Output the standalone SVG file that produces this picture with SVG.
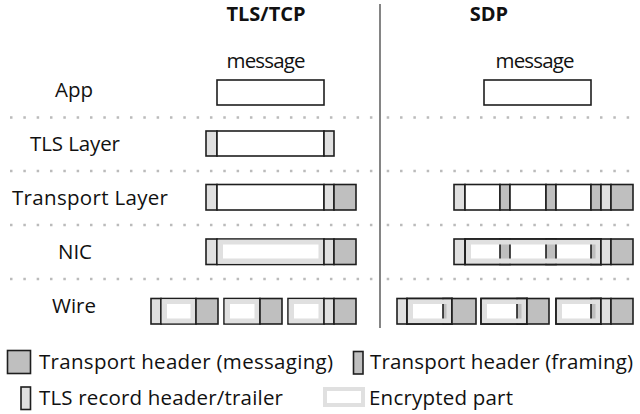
<svg xmlns="http://www.w3.org/2000/svg" width="640" height="414" viewBox="0 0 640 414">
<style>
text{font-family:"Open Sans","Noto Sans","DejaVu Sans",sans-serif;font-size:20.5px;fill:#111}
.t{font-weight:bold;text-anchor:middle;font-size:20px}
.c{text-anchor:middle}
.p{stroke:#1e1e1e;stroke-width:1.6}
.lt{fill:#e0e0e0}
.md{fill:#bfbfbf}
.wh{fill:#fff}
.band{fill:#e0e0e0;fill-rule:evenodd}
.sep{stroke:#bbb;stroke-width:2.5;stroke-dasharray:2.5 10.83}
</style>
<rect width="640" height="414" fill="#fff"/>
<g id="separators">
<line class="sep" x1="10" y1="117.5" x2="375" y2="117.5"/>
<line class="sep" x1="386.7" y1="117.5" x2="635" y2="117.5"/>
<line class="sep" x1="10" y1="171" x2="375" y2="171"/>
<line class="sep" x1="386.7" y1="171" x2="635" y2="171"/>
<line class="sep" x1="10" y1="225" x2="375" y2="225"/>
<line class="sep" x1="386.7" y1="225" x2="635" y2="225"/>
<line class="sep" x1="10" y1="279" x2="375" y2="279"/>
<line class="sep" x1="386.7" y1="279" x2="635" y2="279"/>
<line x1="380" y1="4" x2="380" y2="328" stroke="#333" stroke-width="1.2"/>
</g>
<g id="titles">
<text class="t" x="266" y="21">TLS/TCP</text>
<text class="t" x="489" y="21">SDP</text>
<text class="c" x="266" y="68" textLength="79">message</text>
<text class="c" x="535" y="68" textLength="79">message</text>
</g>
<g id="labels">
<text class="c" x="74" y="97">App</text>
<text class="c" x="75" y="151" textLength="90">TLS Layer</text>
<text class="c" x="90" y="205" textLength="156">Transport Layer</text>
<text class="c" x="75" y="259">NIC</text>
<text class="c" x="74" y="313">Wire</text>
</g>
<g id="tls-app"><rect class="p wh" x="217" y="80" width="107" height="25"/></g>
<g id="tls-tls">
<rect class="p lt" x="206" y="131" width="11" height="25"/>
<rect class="p wh" x="217" y="131" width="107" height="25"/>
<rect class="p lt" x="324" y="131" width="10" height="25"/>
</g>
<g id="tls-transport">
<rect class="p lt" x="206" y="184.5" width="11" height="25.5"/>
<rect class="p wh" x="217" y="184.5" width="107" height="25.5"/>
<rect class="p lt" x="324" y="184.5" width="10" height="25.5"/>
<rect class="p md" x="334" y="184.5" width="22" height="25.5"/>
</g>
<g id="tls-nic">
<rect class="p lt" x="206" y="239" width="11" height="25.5"/>
<rect class="p wh" x="217" y="239" width="107" height="25.5"/>
<path class="band" d="M217.8 239.8H323.2V263.7H217.8Z M223 244.5V258.5H318.5V244.5Z"/>
<rect class="p lt" x="324" y="239" width="10" height="25.5"/>
<rect class="p md" x="334" y="239" width="22" height="25.5"/>
</g>
<g id="tls-wire">
<rect class="p lt" x="151" y="298.5" width="10" height="25.5"/>
<rect class="p wh" x="161" y="298.5" width="35" height="25.5"/>
<path class="band" d="M161.8 299.3H195.2V323.2H161.8Z M167 304V318.5H190.5V304Z"/>
<rect class="p md" x="196" y="298.5" width="22" height="25.5"/>
<rect class="p wh" x="224" y="298.5" width="36" height="25.5"/>
<path class="band" d="M224.8 299.3H259.2V323.2H224.8Z M230 304V318.5H254.5V304Z"/>
<rect class="p md" x="260" y="298.5" width="22" height="25.5"/>
<rect class="p wh" x="288" y="298.5" width="36" height="25.5"/>
<path class="band" d="M288.8 299.3H323.2V323.2H288.8Z M294 304V318.5H318.5V304Z"/>
<rect class="p lt" x="324" y="298.5" width="10" height="25.5"/>
<rect class="p md" x="334" y="298.5" width="22" height="25.5"/>
</g>
<g id="sdp-app"><rect class="p wh" x="484" y="80" width="107" height="25"/></g>
<g id="sdp-transport">
<rect class="p lt" x="454" y="184.5" width="11" height="25.5"/>
<rect class="p wh" x="465" y="184.5" width="35" height="25.5"/>
<rect class="p md" x="500" y="184.5" width="10" height="25.5"/>
<rect class="p wh" x="510" y="184.5" width="36" height="25.5"/>
<rect class="p md" x="546" y="184.5" width="10" height="25.5"/>
<rect class="p wh" x="556" y="184.5" width="35" height="25.5"/>
<rect class="p md" x="591" y="184.5" width="10" height="25.5"/>
<rect class="p lt" x="601" y="184.5" width="10" height="25.5"/>
<rect class="p md" x="611" y="184.5" width="22" height="25.5"/>
</g>
<g id="sdp-nic">
<rect class="p wh" x="465" y="239" width="136" height="25.5"/>
<rect class="p md" x="500" y="239" width="10" height="25.5"/>
<rect class="p md" x="546" y="239" width="10" height="25.5"/>
<rect class="p md" x="591" y="239" width="10" height="25.5"/>
<path class="band" d="M465.8 239.8H600.2V263.7H465.8Z M471 244.5V258.5H595.5V244.5Z"/>
<rect class="p lt" x="454" y="239" width="11" height="25.5"/>
<rect fill="none" class="p" x="465" y="239" width="136" height="25.5"/>
<rect class="p lt" x="601" y="239" width="10" height="25.5"/>
<rect class="p md" x="611" y="239" width="22" height="25.5"/>
</g>
<g id="sdp-wire">
<rect class="p lt" x="397" y="298.5" width="10" height="25.5"/>
<rect class="p wh" x="407" y="298.5" width="45" height="25.5"/>
<rect class="p md" x="443" y="298.5" width="9" height="25.5"/>
<path class="band" d="M407.8 299.3H451.2V323.2H407.8Z M413 304V318.5H446.5V304Z"/>
<rect fill="none" class="p" x="407" y="298.5" width="45" height="25.5"/>
<rect class="p md" x="452" y="298.5" width="24" height="25.5"/>
<rect class="p wh" x="481" y="298.5" width="46" height="25.5"/>
<rect class="p md" x="517" y="298.5" width="10" height="25.5"/>
<path class="band" d="M481.8 299.3H526.2V323.2H481.8Z M487 304V318.5H521.5V304Z"/>
<rect fill="none" class="p" x="481" y="298.5" width="46" height="25.5"/>
<rect class="p md" x="527" y="298.5" width="22" height="25.5"/>
<rect class="p wh" x="556" y="298.5" width="45" height="25.5"/>
<rect class="p md" x="591" y="298.5" width="10" height="25.5"/>
<path class="band" d="M556.8 299.3H600.2V323.2H556.8Z M562 304V318.5H595.5V304Z"/>
<rect fill="none" class="p" x="556" y="298.5" width="45" height="25.5"/>
<rect class="p lt" x="601" y="298.5" width="10" height="25.5"/>
<rect class="p md" x="611" y="298.5" width="22" height="25.5"/>
</g>
<g id="legend">
<rect class="p md" x="7.5" y="350.5" width="23" height="23"/>
<text x="39" y="369" textLength="294">Transport header (messaging)</text>
<rect class="p md" x="353.5" y="351.5" width="9.5" height="22.5"/>
<text x="370" y="369" textLength="263">Transport header (framing)</text>
<rect class="p lt" x="21" y="387" width="9.5" height="22.5"/>
<text x="39" y="405" textLength="244">TLS record header/trailer</text>
<rect x="325" y="389" width="38" height="16" fill="#fff" stroke="#e0e0e0" stroke-width="4"/>
<text x="369" y="405" textLength="144">Encrypted part</text>
</g>
</svg>
